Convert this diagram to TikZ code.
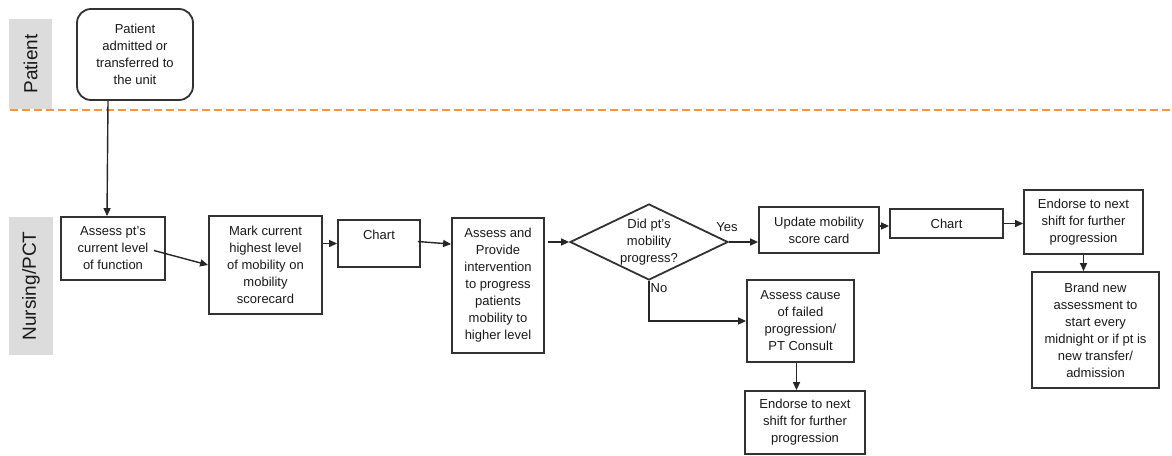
\documentclass[tikz,border=0pt]{standalone}
\usepackage{fontspec}
\setmainfont{Liberation Sans}
\usetikzlibrary{arrows.meta,shapes.geometric,calc}

\definecolor{lanegray}{RGB}{220,220,220}
\definecolor{laneorange}{RGB}{247,150,60}
\definecolor{boxline}{RGB}{50,50,50}
\definecolor{inktext}{RGB}{25,25,25}

\tikzset{
	box/.style={draw=boxline, line width=1.8pt, inner sep=1pt, align=center, text=inktext,
		font=\fontsize{13}{17}\selectfont},
	lane/.style={fill=lanegray, inner sep=0pt, rotate=90, text=inktext,
		font=\fontsize{19}{22}\selectfont},
	flow/.style={draw=black!85, line width=1.4pt, -{Triangle[length=8pt,width=7pt]}},
	tag/.style={inner sep=0pt, text=inktext, font=\fontsize{13}{17}\selectfont},
}

\begin{document}
\begin{tikzpicture}[x=1pt,y=1pt,yscale=-1,xscale=1]
	\useasboundingbox (0,0) rectangle (1172,455);
	% swim lanes
	\node [lane, minimum width=90, minimum height=43] (lanePatient) at (30.5,64) {Patient};
	\node [lane, minimum width=138, minimum height=44] (laneNursing) at (31,286) {Nursing/PCT};
	\draw [laneorange, line width=1.8pt, dash pattern=on 8pt off 4pt] (10,110) -- (1172,110);
	% steps
	\node [box, rounded corners=14pt, minimum width=116, minimum height=91] (start) at (135,54.5) {Patient\\admitted or\\transferred to\\the unit};
	\node [box, minimum width=104, minimum height=63] (assess) at (113,248.5) {Assess pt's\\current level\\of function};
	\node [box, minimum width=113, minimum height=98] (mark) at (265.5,265) {Mark current\\highest level\\of mobility on\\mobility\\scorecard};
	\node [box, minimum width=82, minimum height=47, text depth=17pt] (chartA) at (379,243.5) {Chart};
	\node [box, minimum width=92, minimum height=135] (provide) at (498,285.5) {Assess and\\Provide\\intervention\\to progress\\patients\\mobility to\\higher level};
	\node [draw=boxline, line width=1.8pt, diamond, minimum width=158, minimum height=76, inner sep=0pt,
		label={[tag, align=center]center:Did pt's\\mobility\\progress?}] (progress) at (649,242) {};
	\node [box, minimum width=120, minimum height=46] (update) at (819,230) {Update mobility\\score card};
	\node [box, minimum width=113, minimum height=29] (chartB) at (946.5,223.5) {Chart};
	\node [box, minimum width=119, minimum height=64] (endorseA) at (1083.5,222) {Endorse to next\\shift for further\\progression};
	\node [box, minimum width=127, minimum height=116] (renew) at (1095.5,330) {Brand new\\assessment to\\start every\\midnight or if pt is\\new transfer/\\admission};
	\node [box, minimum width=107, minimum height=82] (cause) at (800.5,321) {Assess cause\\of failed\\progression/\\PT Consult};
	\node [box, minimum width=120, minimum height=63] (endorseB) at (805,422.5) {Endorse to next\\shift for further\\progression};
	% connectors
	\draw [flow] ($(start.south)+(-27,0)$) -- ($(assess.north)+(-6,0)$);
	\draw [flow] ($(assess.east)+(-12,2)$) -- (mark.west);
	\draw [flow] (chartA.west -| mark.east) -- (chartA.west);
	\draw [flow] ($(chartA.east)+(-3,-2)$) -- ($(provide.north west)+(0,27)$);
	\draw [flow] ($(progress.west -| provide.east)+(3,0)$) -- (progress.west);
	\draw [flow] (progress.east) -- (progress.east -| update.west);
	\node [tag] (yesTag) at (727,227) {Yes};
	\draw [flow] (progress.south) -- (progress.south |- cause.west) -- (cause.west);
	\node [tag] (noTag) at (659,288) {No};
	\draw [flow] ($(update.east)+(0,-4)$) -- ($(update.east -| chartB.west)+(0,-4)$);
	\draw [flow] (chartB.east) -- (chartB.east -| endorseA.west);
	\draw [flow] (endorseA.south) -- (endorseA.south |- renew.north);
	\draw [flow] ($(cause.south)+(-4,0)$) -- ($(cause.south |- endorseB.north)+(-4,0)$);
\end{tikzpicture}
\end{document}
